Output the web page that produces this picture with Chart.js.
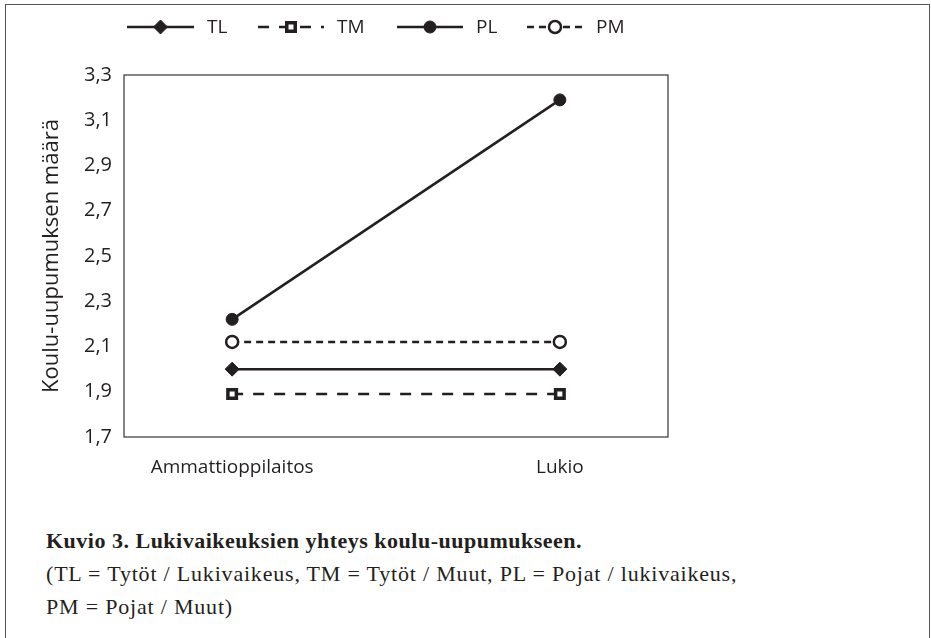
<!DOCTYPE html>
<html>
<head>
<meta charset="utf-8">
<script src="https://cdn.jsdelivr.net/npm/chart.js@4.4.0/dist/chart.umd.min.js"></script>
<style>
  html, body { margin: 0; padding: 0; background: #fff; }
  body { width: 931px; height: 638px; position: relative; overflow: hidden; }
  #frame { position: absolute; left: 5px; top: 4px; width: 923px; height: 650px;
           border: 1.5px solid #555; border-bottom: none; }
  #wrap { position: absolute; left: 0; top: 0; width: 931px; height: 500px; }
  #caption { position: absolute; left: 46px; top: 524px; font-family: "Liberation Serif", serif;
             font-size: 22px; letter-spacing: 0.8px; line-height: 33px; color: #231f20; }
  #caption b { font-weight: bold; letter-spacing: 0.5px; }
</style>
</head>
<body>
<div id="frame"></div>
<div id="wrap"><canvas id="chart"></canvas></div>
<div id="caption">
  <b>Kuvio 3. Lukivaikeuksien yhteys koulu-uupumukseen.</b><br>
  (TL = Tytöt / Lukivaikeus, TM = Tytöt / Muut, PL = Pojat / lukivaikeus,<br>
  PM = Pojat / Muut)
</div>
<script>
// data
const categories = ['Ammattioppilaitos', 'Lukio'];
const seriesNames = ['TL', 'TM', 'PL', 'PM'];
const tlValues = [2.0, 2.0];
const tmValues = [1.89, 1.89];
const plValues = [2.22, 3.19];
const pmValues = [2.12, 2.12];
const yTicks = [1.7, 1.9, 2.1, 2.3, 2.5, 2.7, 2.9, 3.1, 3.3];

const ink = '#231f20';
const sansFont = "'Open Sans', 'DejaVu Sans', sans-serif";

function toPoints(values) {
    return values.map((v, i) => ({ x: i, y: v }));
}

// box round the plot area
const boxPlugin = {
    id: 'box',
    afterDraw(chart) {
        const a = chart.chartArea;
        const ctx = chart.ctx;
        ctx.save();
        ctx.strokeStyle = '#444';
        ctx.lineWidth = 1.3;
        ctx.strokeRect(a.left, a.top, a.right - a.left, a.bottom - a.top);
        ctx.restore();
    }
};

// legend at top: line with marker in the middle, then the label
const legendX = [127, 258, 397, 527];
const legendW = [67, 66, 66, 56];
const lineLegendPlugin = {
    id: 'lineLegend',
    afterDraw(chart) {
        const ctx = chart.ctx;
        const y = 27;
        chart.data.datasets.forEach((ds, i) => {
            const x0 = legendX[i], x1 = x0 + legendW[i];
            ctx.save();
            ctx.strokeStyle = ds.borderColor;
            ctx.lineWidth = ds.borderWidth;
            ctx.setLineDash(ds.borderDash || []);
            ctx.beginPath();
            ctx.moveTo(x0, y);
            ctx.lineTo(x1, y);
            ctx.stroke();
            ctx.setLineDash([]);
            const mx = (x0 + x1) / 2;
            ctx.fillStyle = ds.pointBackgroundColor;
            ctx.strokeStyle = ds.pointBorderColor;
            ctx.lineWidth = ds.pointBorderWidth;
            Chart.helpers.drawPoint(ctx, {
                pointStyle: ds.pointStyle,
                radius: ds.pointRadius,
                rotation: 0,
                borderWidth: ds.pointBorderWidth
            }, mx, y);
            ctx.fillStyle = ink;
            ctx.font = '19px ' + sansFont;
            ctx.textBaseline = 'middle';
            ctx.fillText(ds.label, x1 + 13, y + 1);
            ctx.restore();
        });
    }
};

const ctx = document.getElementById('chart').getContext('2d');
const chart = new Chart(ctx, {
    type: 'line',
    data: {
        datasets: [
            {
                label: seriesNames[0], data: toPoints(tlValues),
                borderColor: ink, borderWidth: 2.5, borderDash: [],
                pointStyle: 'rectRot', pointRadius: 7,
                pointBackgroundColor: ink, pointBorderColor: ink, pointBorderWidth: 1
            },
            {
                label: seriesNames[1], data: toPoints(tmValues),
                borderColor: ink, borderWidth: 2.5, borderDash: [11, 10],
                pointStyle: 'rect', pointRadius: 6,
                pointBackgroundColor: '#fff', pointBorderColor: ink, pointBorderWidth: 3.5
            },
            {
                label: seriesNames[2], data: toPoints(plValues),
                borderColor: ink, borderWidth: 2.5, borderDash: [],
                pointStyle: 'circle', pointRadius: 6,
                pointBackgroundColor: ink, pointBorderColor: ink, pointBorderWidth: 1
            },
            {
                label: seriesNames[3], data: toPoints(pmValues),
                borderColor: ink, borderWidth: 2.5, borderDash: [7, 5],
                pointStyle: 'circle', pointRadius: 6,
                pointBackgroundColor: '#fff', pointBorderColor: ink, pointBorderWidth: 2.5
            }
        ]
    },
    options: {
        responsive: true,
        maintainAspectRatio: false,
        animation: false,
        layout: { padding: { top: 75, right: 263, bottom: 13, left: 0 } },
        plugins: {
            legend: { display: false },
            tooltip: { enabled: false }
        },
        scales: {
            x: {
                type: 'linear',
                min: -0.33,
                max: 1.33,
                grid: { display: false, drawTicks: false },
                border: { display: false },
                afterBuildTicks(scale) {
                    scale.ticks = categories.map((c, i) => ({ value: i }));
                },
                afterFit(scale) { scale.height = 50; },
                ticks: {
                    padding: 19,
                    color: ink,
                    font: { family: sansFont, size: 19 },
                    callback: (v) => categories[v]
                }
            },
            y: {
                min: yTicks[0],
                max: yTicks[yTicks.length - 1],
                grid: { display: false, drawTicks: false },
                border: { display: false },
                afterBuildTicks(scale) {
                    scale.ticks = yTicks.map(v => ({ value: v }));
                },
                afterFit(scale) { scale.width = 124; },
                ticks: {
                    padding: 12,
                    color: ink,
                    font: { family: sansFont, size: 20 },
                    callback: (v) => v.toFixed(1).replace('.', ',')
                },
                title: {
                    display: true,
                    text: 'Koulu-uupumuksen määrä',
                    color: ink,
                    font: { family: sansFont, size: 22 },
                    padding: { top: 39, bottom: 0 }
                }
            }
        }
    },
    plugins: [boxPlugin, lineLegendPlugin]
});
</script>
</body>
</html>
